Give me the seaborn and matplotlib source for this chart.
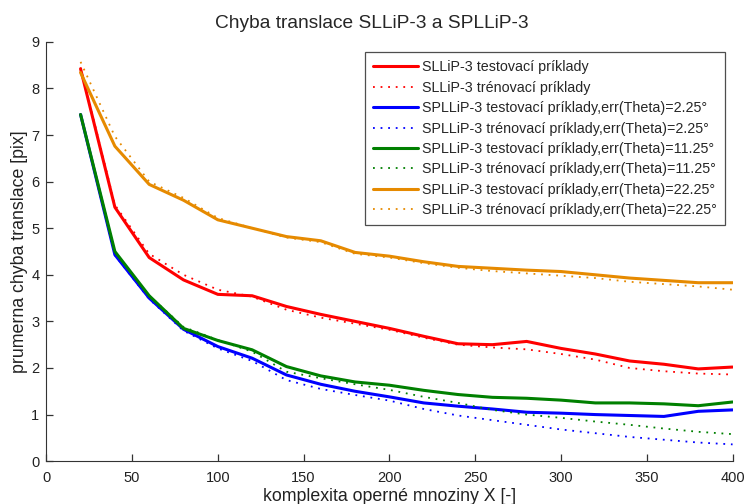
import matplotlib
matplotlib.use("Agg")
import matplotlib.pyplot as plt
import seaborn as sns
import pandas as pd

# Velikost operne mnoziny
x_vals = [20, 40, 60, 80, 100, 120, 140, 160, 180, 200,
          220, 240, 260, 280, 300, 320, 340, 360, 380, 400]

sllip_test = [8.42, 5.45, 4.37, 3.89, 3.58, 3.55, 3.32, 3.15, 3.00, 2.85,
              2.68, 2.52, 2.50, 2.57, 2.42, 2.30, 2.15, 2.08, 1.98, 2.02]
sllip_train = [8.45, 5.50, 4.45, 4.00, 3.68, 3.53, 3.25, 3.08, 2.95, 2.82,
               2.65, 2.50, 2.44, 2.40, 2.30, 2.18, 2.00, 1.93, 1.88, 1.86]
spllip_test_225 = [7.44, 4.43, 3.50, 2.83, 2.46, 2.21, 1.85, 1.65, 1.50, 1.38,
                   1.25, 1.18, 1.12, 1.05, 1.03, 1.00, 0.98, 0.96, 1.07, 1.10]
spllip_train_225 = [7.44, 4.42, 3.48, 2.80, 2.42, 2.15, 1.74, 1.55, 1.42, 1.30,
                    1.12, 0.98, 0.88, 0.78, 0.68, 0.60, 0.52, 0.46, 0.40, 0.36]
spllip_test_1125 = [7.44, 4.50, 3.55, 2.85, 2.59, 2.39, 2.03, 1.83, 1.70, 1.63,
                    1.52, 1.43, 1.37, 1.35, 1.31, 1.25, 1.25, 1.23, 1.19, 1.27]
spllip_train_1125 = [7.44, 4.48, 3.55, 2.88, 2.60, 2.35, 1.92, 1.78, 1.65, 1.53,
                     1.38, 1.25, 1.10, 1.00, 0.93, 0.85, 0.78, 0.70, 0.63, 0.58]
spllip_test_2225 = [8.34, 6.76, 5.94, 5.60, 5.18, 5.00, 4.82, 4.73, 4.48, 4.40,
                    4.28, 4.18, 4.14, 4.10, 4.07, 4.00, 3.93, 3.88, 3.83, 3.83]
spllip_train_2225 = [8.57, 6.97, 6.00, 5.65, 5.22, 5.00, 4.80, 4.70, 4.45, 4.37,
                     4.25, 4.15, 4.08, 4.03, 3.98, 3.93, 3.85, 3.80, 3.75, 3.68]

labels = [
    "SLLiP-3 testovací príklady",
    "SLLiP-3 trénovací príklady",
    "SPLLiP-3 testovací príklady,err(Theta)=2.25°",
    "SPLLiP-3 trénovací príklady,err(Theta)=2.25°",
    "SPLLiP-3 testovací príklady,err(Theta)=11.25°",
    "SPLLiP-3 trénovací príklady,err(Theta)=11.25°",
    "SPLLiP-3 testovací príklady,err(Theta)=22.25°",
    "SPLLiP-3 trénovací príklady,err(Theta)=22.25°",
]
series = [sllip_test, sllip_train, spllip_test_225, spllip_train_225,
          spllip_test_1125, spllip_train_1125, spllip_test_2225, spllip_train_2225]
colors = ["#FF0000", "#FF0000", "#0000FF", "#0000FF",
          "#008000", "#008000", "#E68A00", "#E68A00"]

sns.set_style("ticks", {"xtick.direction": "in", "ytick.direction": "in"})
plt.rcParams["font.family"] = ["Liberation Sans", "DejaVu Sans"]

fig = plt.figure(figsize=(7.46, 5.04), dpi=100)
ax = fig.add_axes([0.062, 0.085, 0.920, 0.832])

for vals, lab, col in zip(series, labels, colors):
    df = pd.DataFrame({"x": x_vals, "y": vals})
    if "testovací" in lab:
        sns.lineplot(data=df, x="x", y="y", ax=ax, color=col, lw=2.2,
                     label=lab)
    else:
        sns.lineplot(data=df, x="x", y="y", ax=ax, color=col, lw=1.3,
                     linestyle=(0, (1, 3.2)), label=lab)

ax.set_xlim(0, 400)
ax.set_ylim(0, 9)
ax.set_xticks(range(0, 401, 50))
ax.set_yticks(range(0, 10))
ax.tick_params(bottom=True, left=True, direction="in", length=5, width=0.9,
               labelsize=10.5, color="#333333", labelcolor="#222222")
ax.tick_params(axis="x", pad=7)
ax.tick_params(axis="y", pad=5)
for side in ["top", "right"]:
    ax.spines[side].set_visible(False)
for side in ["left", "bottom"]:
    ax.spines[side].set_color("#333333")
    ax.spines[side].set_linewidth(0.8)

ax.set_title("Chyba translace SLLiP-3 a SPLLiP-3", fontsize=13.8, x=0.475, pad=10)
ax.set_xlabel("komplexita operné mnoziny X [-]", fontsize=12.8, color="#222222", labelpad=2)
ax.set_ylabel("prumerna chyba translace [pix]", fontsize=12.8, color="#222222", labelpad=2)

leg = ax.legend(loc="upper right", bbox_to_anchor=(0.995, 0.985), fontsize=10.3,
                frameon=True, fancybox=False, handlelength=3.15,
                handletextpad=0.3, labelspacing=0.45, borderpad=0.55,
                borderaxespad=0.3)
leg.get_frame().set_edgecolor("#222222")
leg.get_frame().set_linewidth(0.9)

fig.savefig("out.png", dpi=100)
